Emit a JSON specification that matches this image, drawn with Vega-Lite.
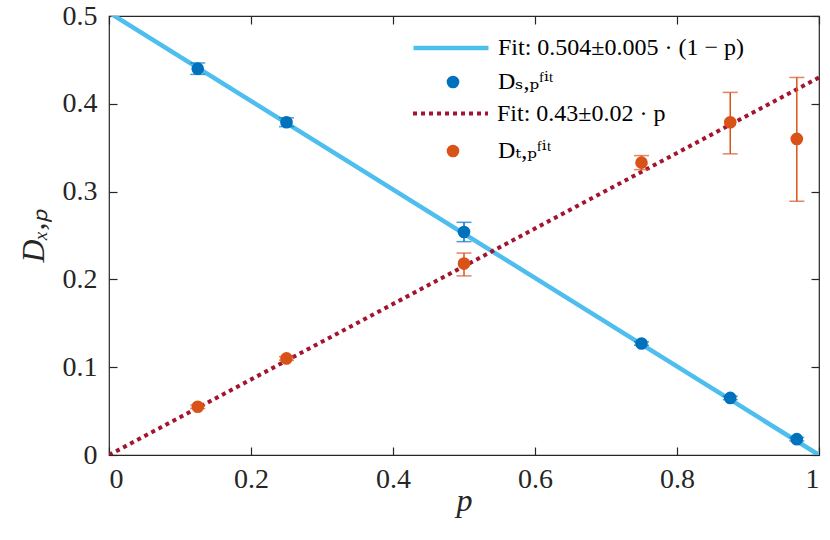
{
  "$schema": "https://vega.github.io/schema/vega-lite/v6.json",
  "width": 710,
  "height": 439,
  "padding": {"left": 17, "top": 2, "right": 5, "bottom": 5},
  "config": {
    "font": "Liberation Serif",
    "view": {"stroke": "#262626", "strokeWidth": 1.2},
    "axis": {
      "grid": false,
      "domain": false,
      "tickColor": "#262626",
      "tickSize": -8,
      "tickWidth": 1.2,
      "labelFont": "Liberation Serif",
      "labelFontSize": 28,
      "labelColor": "#262626",
      "titleFont": "Liberation Serif",
      "titleFontSize": 32,
      "titleFontWeight": "normal",
      "titleFontStyle": "italic",
      "titleColor": "#262626"
    },
    "legend": {
      "orient": "none",
      "title": null,
      "labelFont": "Liberation Serif, DejaVu Serif",
      "labelFontSize": 24,
      "labelColor": "#000000",
      "labelLimit": 400,
      "symbolOpacity": 1
    }
  },
  "datasets": {
    "points": [
      {"p": 0.125, "D": 0.440, "lo": 0.4335, "hi": 0.4465, "series": "Dₛ,ₚᶠⁱᵗ"},
      {"p": 0.25, "D": 0.379, "lo": 0.374, "hi": 0.384, "series": "Dₛ,ₚᶠⁱᵗ"},
      {"p": 0.5, "D": 0.254, "lo": 0.243, "hi": 0.265, "series": "Dₛ,ₚᶠⁱᵗ"},
      {"p": 0.75, "D": 0.127, "lo": 0.125, "hi": 0.129, "series": "Dₛ,ₚᶠⁱᵗ"},
      {"p": 0.875, "D": 0.065, "lo": 0.063, "hi": 0.067, "series": "Dₛ,ₚᶠⁱᵗ"},
      {"p": 0.96875, "D": 0.018, "lo": 0.016, "hi": 0.020, "series": "Dₛ,ₚᶠⁱᵗ"},
      {"p": 0.125, "D": 0.055, "lo": 0.053, "hi": 0.057, "series": "Dₜ,ₚᶠⁱᵗ"},
      {"p": 0.25, "D": 0.110, "lo": 0.108, "hi": 0.112, "series": "Dₜ,ₚᶠⁱᵗ"},
      {"p": 0.5, "D": 0.218, "lo": 0.204, "hi": 0.230, "series": "Dₜ,ₚᶠⁱᵗ"},
      {"p": 0.75, "D": 0.333, "lo": 0.325, "hi": 0.341, "series": "Dₜ,ₚᶠⁱᵗ"},
      {"p": 0.875, "D": 0.379, "lo": 0.343, "hi": 0.413, "series": "Dₜ,ₚᶠⁱᵗ"},
      {"p": 0.96875, "D": 0.360, "lo": 0.289, "hi": 0.430, "series": "Dₜ,ₚᶠⁱᵗ"}
    ],
    "fitS": [
      {"p": 0, "D": 0.504, "series": "Fit: 0.504±0.005 · (1 − p)"},
      {"p": 1, "D": 0, "series": "Fit: 0.504±0.005 · (1 − p)"}
    ],
    "fitT": [
      {"p": 0, "D": 0, "series": "Fit: 0.43±0.02 · p"},
      {"p": 1, "D": 0.43, "series": "Fit: 0.43±0.02 · p"}
    ]
  },
  "layer": [
    {
      "data": {"name": "fitS"},
      "mark": {"type": "line", "strokeWidth": 4.5, "clip": true},
      "encoding": {
        "x": {"field": "p", "type": "quantitative", "scale": {"domain": [0, 1], "nice": false},
          "axis": {"orient": "bottom", "values": [0, 0.2, 0.4, 0.6, 0.8, 1], "format": "~g", "title": "p", "labelPadding": 18, "titlePadding": -8}},
        "y": {"field": "D", "type": "quantitative", "scale": {"domain": [0, 0.5], "nice": false},
          "axis": {"orient": "left", "values": [0, 0.1, 0.2, 0.3, 0.4, 0.5], "format": "~g", "title": "Dₓ,ₚ", "labelPadding": 20, "titlePadding": 12}},
        "stroke": {
          "field": "series", "type": "nominal",
          "scale": {"domain": ["Fit: 0.504±0.005 · (1 − p)"], "range": ["#4DBEEE"]},
          "legend": {"legendX": 302, "legendY": -8, "symbolType": "stroke", "symbolSize": 5625, "symbolStrokeWidth": 4.5, "labelOffset": 7}
        }
      }
    },
    {
      "data": {"name": "fitT"},
      "mark": {"type": "line", "color": "#A2142F", "strokeWidth": 4, "clip": true},
      "encoding": {
        "x": {"field": "p", "type": "quantitative",
          "axis": {"orient": "top", "values": [0, 0.2, 0.4, 0.6, 0.8, 1], "labels": false, "title": null}},
        "y": {"field": "D", "type": "quantitative",
          "axis": {"orient": "right", "values": [0, 0.1, 0.2, 0.3, 0.4, 0.5], "labels": false, "title": null}},
        "strokeDash": {
          "field": "series", "type": "nominal",
          "scale": {"domain": ["Fit: 0.43±0.02 · p"], "range": [[4, 4]]},
          "legend": {"legendX": 302, "legendY": 58, "symbolType": "stroke", "symbolSize": 5625, "symbolStrokeWidth": 4, "symbolStrokeColor": "#A2142F", "labelOffset": 7}
        }
      }
    },
    {
      "data": {"name": "points"},
      "mark": {"type": "rule", "strokeWidth": 1.5},
      "encoding": {
        "x": {"field": "p", "type": "quantitative", "axis": null},
        "y": {"field": "lo", "type": "quantitative", "axis": null},
        "y2": {"field": "hi"},
        "color": {"field": "series", "type": "nominal",
          "scale": {"domain": ["Dₛ,ₚᶠⁱᵗ", "Dₜ,ₚᶠⁱᵗ"], "range": ["#0072BD", "#D95319"]}, "legend": null}
      }
    },
    {
      "data": {"name": "points"},
      "mark": {"type": "tick", "orient": "horizontal", "size": 15, "thickness": 1.5},
      "encoding": {
        "x": {"field": "p", "type": "quantitative", "axis": null},
        "y": {"field": "lo", "type": "quantitative", "axis": null},
        "color": {"field": "series", "type": "nominal", "legend": null}
      }
    },
    {
      "data": {"name": "points"},
      "mark": {"type": "tick", "orient": "horizontal", "size": 15, "thickness": 1.5},
      "encoding": {
        "x": {"field": "p", "type": "quantitative", "axis": null},
        "y": {"field": "hi", "type": "quantitative", "axis": null},
        "color": {"field": "series", "type": "nominal", "legend": null}
      }
    },
    {
      "data": {"name": "points"},
      "transform": [{"filter": "datum.series == 'Dₛ,ₚᶠⁱᵗ'"}],
      "mark": {"type": "point", "shape": "circle", "filled": true, "opacity": 1, "size": 160},
      "encoding": {
        "x": {"field": "p", "type": "quantitative", "axis": null},
        "y": {"field": "D", "type": "quantitative", "axis": null},
        "fill": {
          "field": "series", "type": "nominal",
          "scale": {"domain": ["Dₛ,ₚᶠⁱᵗ"], "range": ["#0072BD"]},
          "legend": {"legendX": 332, "legendY": 54, "symbolType": "circle", "symbolSize": 160, "symbolStrokeWidth": 0, "labelOffset": 33}
        }
      }
    },
    {
      "data": {"name": "points"},
      "transform": [{"filter": "datum.series == 'Dₜ,ₚᶠⁱᵗ'"}],
      "mark": {"type": "point", "filled": true, "color": "#D95319", "opacity": 1, "size": 160},
      "encoding": {
        "x": {"field": "p", "type": "quantitative", "axis": null},
        "y": {"field": "D", "type": "quantitative", "axis": null},
        "shape": {
          "field": "series", "type": "nominal",
          "scale": {"domain": ["Dₜ,ₚᶠⁱᵗ"], "range": ["circle"]},
          "legend": {"legendX": 332, "legendY": 123, "symbolSize": 160, "symbolFillColor": "#D95319", "symbolStrokeWidth": 0, "labelOffset": 33}
        }
      }
    }
  ],
  "resolve": {"axis": {"x": "independent", "y": "independent"}}
}
